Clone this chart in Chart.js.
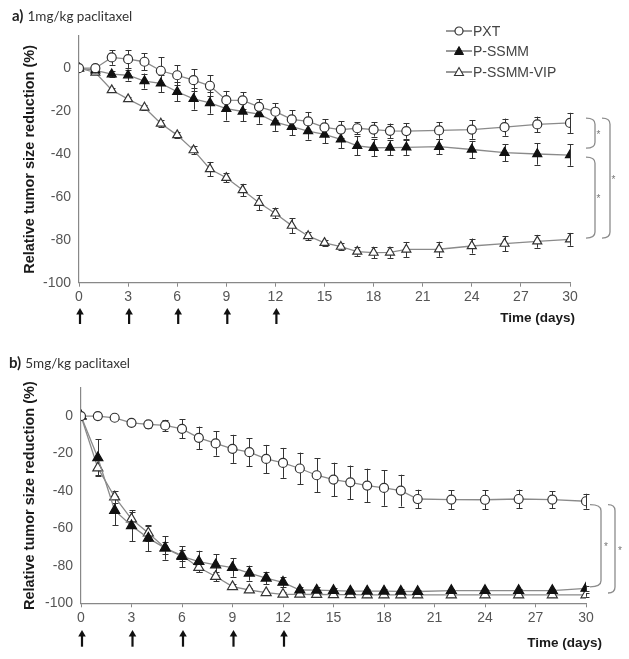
<!DOCTYPE html>
<html><head><meta charset="utf-8">
<script src="https://cdn.jsdelivr.net/npm/chart.js@4"></script>
<style>
body{margin:0;background:#fff;}
#wrap{position:relative;width:629px;height:659px;overflow:hidden;background:#fff;}
canvas{position:absolute;left:0;}
.ptitle{position:absolute;font-family:Lato,"Open Sans",sans-serif;font-size:13.5px;color:#333;white-space:nowrap;line-height:18px;}
.ptitle b{font-size:15px;color:#222;margin-right:4px;}
#legend{position:absolute;left:446px;top:20.5px;font-family:"Liberation Sans",Arial,sans-serif;font-size:14px;color:#444;}
#legend .row{height:20.5px;display:flex;align-items:center;}
#legend svg{margin-right:1px;}
</style></head>
<body>
<div id="wrap">
  <canvas id="cA" width="629" height="330" style="top:0px"></canvas>
  <canvas id="cB" width="629" height="329" style="top:330px"></canvas>
  <div class="ptitle" style="left:12px;top:6px"><b>a)</b>1mg/kg paclitaxel</div>
  <div class="ptitle" style="left:9px;top:353px"><b>b)</b>5mg/kg paclitaxel</div>
  <div id="legend"></div>
</div>
<script>
// ---------------- data ----------------
const days = [0,1,2,3,4,5,6,7,8,9,10,11,12,13,14,15,16,17,18,19,20,22,24,26,28,30];
const xTicks = [0,3,6,9,12,15,18,21,24,27,30];
const yTicks = [-100,-80,-60,-40,-20,0];
const doseDays = [0,3,6,9,12];
const seriesNames = ['PXT','P-SSMM','P-SSMM-VIP'];

// panel a) 1mg/kg
const pxtA    = [0,0,5,4.2,3,-1.2,-3.3,-5.6,-8.2,-14.9,-15,-18,-20.3,-23.9,-24.8,-27.6,-28.6,-28,-28.6,-29.2,-29.3,-29,-28.6,-27.5,-26.2,-25.5];
const pxtAErr = [0,1,3.4,4.2,3.9,6.2,4.7,5,5,4.3,3.9,3.4,3.9,4.3,4.4,3.7,3.9,2.8,3.3,3.4,3.6,3.9,4.3,4,3.6,4.7];
const ssmmA    = [0,-1,-2.8,-3.3,-6,-7.1,-11,-14.3,-16.2,-18.9,-20.2,-21.4,-25.2,-27.3,-29.3,-30.9,-33.2,-36.2,-37.1,-37,-36.9,-36.6,-37.9,-39.4,-40,-40.5];
const ssmmAErr = [0,1,1.5,2.5,3.5,4,4.5,5,5,5.5,4.5,4.5,4,4,4,4,4,4.5,4,3.5,3.5,3.5,4,4,5,5];
const vipA    = [0,-2,-10.2,-14.4,-18.3,-25.8,-31.2,-38.2,-47,-51.1,-56.8,-62.7,-67.7,-73.4,-78.2,-81.4,-83.2,-85.5,-86,-85.9,-84.5,-84.4,-82.9,-81.8,-80.7,-79.8];
const vipAErr = [0,0.5,1,1,1,1.5,1.5,2,3.3,2.1,2.9,3.5,2.3,3.5,2,1.5,1.5,2,2.5,2.5,3.5,3.5,3.5,3.5,3,3];
const bracketsA = [[-23.3,-37.3,0],[-41.5,-79.2,0],[-23.3,-79.2,1]];

// panel b) 5mg/kg
const pxtB    = [0,0,-0.9,-3.6,-4.4,-5,-6.8,-11.6,-14.6,-17.5,-19.3,-22.9,-25,-28,-31.6,-33.9,-35.4,-37.1,-38.4,-39.8,-44.3,-44.6,-44.7,-44.3,-44.6,-45.5];
const pxtBErr = [0,0.5,0.5,1,2,3,5,6,6.5,7.5,7.5,7.5,8,8.5,9,9,9,9,9.5,8.5,5,5,5,5,4.5,4];
const ssmmB    = [0,-22.3,-50.4,-58.6,-65.2,-70.5,-75,-77.7,-79.5,-80.9,-83.9,-86.6,-88.8,-92.9,-93,-93.2,-93.5,-93.5,-93.5,-93.6,-93.7,-93.2,-93.2,-93.2,-93.2,-92];
const ssmmBErr = [0,9.8,7.8,8.3,7,6.2,5.6,5.8,5.6,4.9,4,3.3,2.7,1.5,1.5,1.5,1,1,1,1,1,1,1,1,1,1.5];
const vipB    = [0,-27.7,-43.2,-55,-62.5,-70.5,-74.5,-80.9,-85.7,-91.1,-92.9,-94.3,-95.2,-95.2,-95.3,-95.4,-95.4,-95.5,-95.5,-95.5,-95.5,-95.5,-95.5,-95.5,-95.5,-95.5];
const vipBErr = [0,4,3,4,4,3,3,2.5,2.5,1.5,1,1,1,1,1,1,1,1,1,1,1,1,1,1,1,1];
const bracketsB = [[-47.3,-91.2,0],[-47.3,-94.5,1]];

// ---------------- helpers ----------------
const FONT = '"Liberation Sans", Arial, sans-serif';
const toXY = (ys) => days.map((d,i)=>({x:d, y:ys[i]}));

const annot = {
  id:'annot',
  beforeDatasetsDraw(chart){
    const ctx = chart.ctx, ys = chart.scales.y;
    ctx.save();
    ctx.strokeStyle = '#333'; ctx.lineWidth = 1;
    chart.data.datasets.forEach((ds, di) => {
      const meta = chart.getDatasetMeta(di);
      meta.data.forEach((pt, i) => {
        const e = ds.errors[i]; if (!e) return;
        const v = ds.data[i].y;
        const y1 = ys.getPixelForValue(v + e), y2 = ys.getPixelForValue(v - e);
        const x = Math.round(pt.x) + 0.5;
        ctx.beginPath();
        ctx.moveTo(x, y1); ctx.lineTo(x, y2);
        ctx.moveTo(x-3, Math.round(y1)+0.5); ctx.lineTo(x+3, Math.round(y1)+0.5);
        ctx.moveTo(x-3, Math.round(y2)+0.5); ctx.lineTo(x+3, Math.round(y2)+0.5);
        ctx.stroke();
      });
    });
    ctx.restore();
  },
  afterDraw(chart, args, o){
    const ctx = chart.ctx, area = chart.chartArea, xs = chart.scales.x, ys = chart.scales.y;
    ctx.save();
    // dosing arrows
    ctx.strokeStyle = '#111'; ctx.fillStyle = '#111'; ctx.lineWidth = 2.2;
    o.doses.forEach(d => {
      const x = xs.getPixelForValue(d) + 1;
      const t = area.bottom + o.arrow[0], b = area.bottom + o.arrow[1];
      ctx.beginPath(); ctx.moveTo(x, t + 5); ctx.lineTo(x, b); ctx.stroke();
      ctx.beginPath(); ctx.moveTo(x, t); ctx.lineTo(x - 3.8, t + 6.5); ctx.lineTo(x + 3.8, t + 6.5); ctx.closePath(); ctx.fill();
    });
    // significance brackets
    ctx.strokeStyle = '#8c8c8c'; ctx.lineWidth = 1.3; ctx.fillStyle = '#777';
    ctx.font = '10px ' + FONT; ctx.textAlign = 'center'; ctx.textBaseline = 'middle';
    o.brackets.forEach(([a, b, lvl]) => {
      const g = o.bx[lvl];
      const x0 = area.right + g[0], x1 = area.right + g[1];
      const y0 = ys.getPixelForValue(a), y1 = ys.getPixelForValue(b), r = 6;
      ctx.beginPath();
      ctx.moveTo(x0, y0);
      ctx.quadraticCurveTo(x1, y0, x1, y0 + r);
      ctx.lineTo(x1, y1 - r);
      ctx.quadraticCurveTo(x1, y1, x0, y1);
      ctx.stroke();
      ctx.fillText('*', area.right + g[2], (y0 + y1) / 2 + 2);
    });
    // axis caption
    ctx.fillStyle = '#1a1a1a'; ctx.font = 'bold 13.5px ' + FONT;
    ctx.textAlign = 'right'; ctx.textBaseline = 'middle';
    ctx.fillText('Time (days)', o.time[0], o.time[1]);
    ctx.restore();
  }
};

function makeChart(id, sets, cfg){
  const [pxt, pxtE, ssmm, ssmmE, vip, vipE] = sets;
  return new Chart(document.getElementById(id), {
    type:'line',
    data:{ datasets:[
      {label:seriesNames[0], data:toXY(pxt), errors:pxtE, pointStyle:'circle', pointRadius:4.5,
       pointBackgroundColor:'#fff', pointBorderColor:'#333'},
      {label:seriesNames[1], data:toXY(ssmm), errors:ssmmE, pointStyle:'triangle', pointRadius:cfg.tri,
       pointBackgroundColor:'#111', pointBorderColor:'#111'},
      {label:seriesNames[2], data:toXY(vip), errors:vipE, pointStyle:'triangle', pointRadius:cfg.tri,
       pointBackgroundColor:'#fff', pointBorderColor:'#333'}
    ].map(d => Object.assign(d, {borderColor:'#8a8a8a', borderWidth:1.3, pointBorderWidth:1.2, tension:0, fill:false}))},
    plugins:[annot],
    options:{
      responsive:false, animation:false, devicePixelRatio:1,
      layout:{padding:{left:0, top:cfg.top, right:cfg.right, bottom:0}},
      plugins:{
        legend:{display:false}, tooltip:{enabled:false},
        annot:{doses:doseDays, arrow:cfg.arrow, brackets:cfg.brackets, bx:cfg.bx, time:cfg.time}
      },
      scales:{
        x:{type:'linear', min:0, max:30,
           afterBuildTicks:(s)=>{ s.ticks = xTicks.map(v=>({value:v})); },
           afterFit:(s)=>{ s.height = cfg.xh; },
           grid:{drawOnChartArea:false, drawTicks:true, tickLength:4, color:'#888'},
           border:{display:true, color:'#888', width:1.2},
           ticks:{font:{family:FONT, size:14}, color:'#555', padding:2, maxRotation:0, autoSkip:false}},
        y:{type:'linear', min:-100, max:15,
           afterBuildTicks:(s)=>{ s.ticks = yTicks.map(v=>({value:v})); },
           afterFit:(s)=>{ s.width = cfg.yw; },
           grid:{display:false, drawTicks:false, tickLength:0},
           border:{display:true, color:'#888', width:1.2},
           ticks:{font:{family:FONT, size:14}, color:'#555', padding:8},
           title:{display:true, text:'Relative tumor size reduction (%)', color:'#1a1a1a',
                  font:{family:FONT, size:14.5, weight:'bold'}, padding:{top:21, bottom:0}}}
      }
    }
  });
}

makeChart('cA', [pxtA, pxtAErr, ssmmA, ssmmAErr, vipA, vipAErr], {
  top:36, right:59, xh:47.3, yw:79, tri:5.2,
  arrow:[25.3, 41.3], brackets:bracketsA, bx:[[16,25,28.5],[32,40,43.5]], time:[575, 318]
});
makeChart('cB', [pxtB, pxtBErr, ssmmB, ssmmBErr, vipB, vipBErr], {
  top:58, right:43, xh:55.7, yw:81, tri:5.8,
  arrow:[26.7, 43.4], brackets:bracketsB, bx:[[4,15,20],[22,29,34]], time:[602, 313]
});

// ---------------- legend ----------------
const icons = [
  '<circle cx="13" cy="6" r="4" fill="#fff" stroke="#333" stroke-width="1.2"/>',
  '<polygon points="13,1.5 17.5,9.5 8.5,9.5" fill="#111" stroke="#111" stroke-width="1"/>',
  '<polygon points="13,1.5 17.5,9.5 8.5,9.5" fill="#fff" stroke="#333" stroke-width="1.1"/>'
];
document.getElementById('legend').innerHTML = seriesNames.map((n,i) =>
  '<div class="row"><svg width="26" height="12"><line x1="0" y1="6" x2="26" y2="6" stroke="#555" stroke-width="1.2"/>' +
  icons[i] + '</svg><span>' + n + '</span></div>').join('');
</script>
</body></html>
